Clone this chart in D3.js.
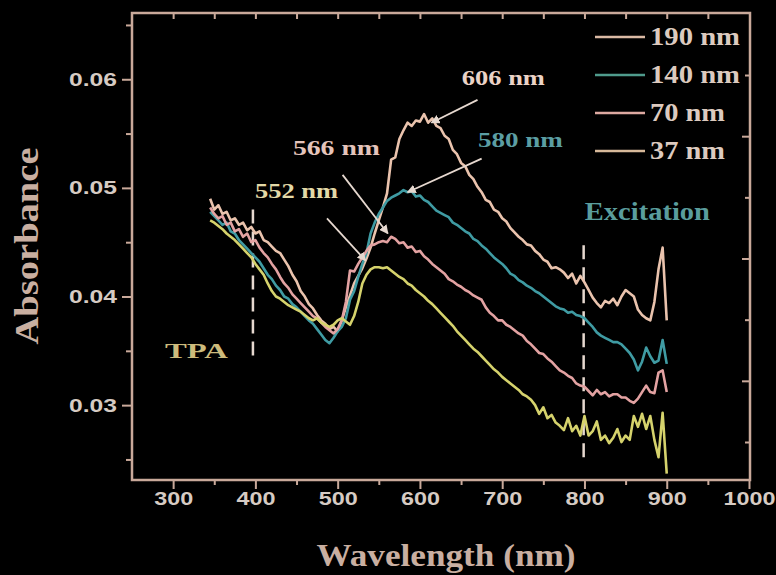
<!DOCTYPE html>
<html><head><meta charset="utf-8">
<script src="https://cdn.jsdelivr.net/npm/d3@7"></script>
<style>body{margin:0;background:#000;}svg{display:block;}</style>
</head><body>
<svg id="chart" width="776" height="575"></svg>
<script>
// ---------------- data ----------------
const wavelengths = [
345,350,355,360,365,370,375,380,385,390,
395,400,405,410,415,420,425,430,435,440,
445,450,455,460,465,470,475,480,485,490,
495,500,505,510,515,520,525,530,535,540,
545,550,555,560,565,570,575,580,585,590,
595,600,605,610,615,620,625,630,635,640,
645,650,655,660,665,670,675,680,685,690,
695,700,705,710,715,720,725,730,735,740,
745,750,755,760,765,770,775,780,785,790,
795,800,805,810,815,820,825,830,835,840,
845,850,855,860,865,870,875,880,885,890,
895,900];

const seriesNames = ["190 nm", "140 nm", "70 nm", "37 nm"];

const abs190 = [
.0490,.0480,.0484,.0476,.0478,.0470,.0472,.0466,.0468,.0461,
.0464,.0458,.0460,.0452,.0450,.0446,.0442,.0440,.0434,.0428,
.0420,.0414,.0405,.0400,.0393,.0389,.0383,.0378,.0375,.0370,
.0372,.0368,.0378,.0390,.0401,.0412,.0419,.0426,.0435,.0445,
.0458,.0470,.0482,.0495,.0526,.0528,.0545,.0553,.0560,.0557,
.0562,.0561,.0568,.0560,.0564,.0557,.0555,.0548,.0545,.0535,
.0531,.0523,.0520,.0512,.0508,.0501,.0496,.0489,.0487,.0480,
.0478,.0472,.0469,.0463,.0459,.0455,.0452,.0448,.0447,.0442,
.0439,.0434,.0432,.0426,.0427,.0425,.0422,.0417,.0421,.0412,
.0419,.0413,.0406,.0399,.0394,.0390,.0396,.0394,.0398,.0392,
.0400,.0406,.0403,.0400,.0388,.0383,.0380,.0378,.0395,.0425,
.0445,.0378];

const abs140 = [
.0478,.0474,.0470,.0466,.0468,.0460,.0458,.0452,.0448,.0444,
.0440,.0436,.0432,.0426,.0420,.0416,.0410,.0406,.0400,.0398,
.0393,.0390,.0386,.0382,.0378,.0375,.0370,.0365,.0360,.0357,
.0362,.0368,.0372,.0380,.0397,.0405,.0418,.0430,.0440,.0458,
.0468,.0476,.0482,.0488,.0491,.0493,.0495,.0498,.0496,.0497,
.0492,.0493,.0489,.0487,.0483,.0479,.0477,.0475,.0473,.0468,
.0466,.0463,.0460,.0458,.0453,.0451,.0447,.0444,.0440,.0436,
.0433,.0430,.0426,.0421,.0419,.0415,.0413,.0410,.0408,.0405,
.0403,.0400,.0397,.0394,.0391,.0389,.0388,.0385,.0386,.0383,
.0382,.0380,.0376,.0372,.0367,.0364,.0362,.0360,.0358,.0358,
.0356,.0352,.0348,.0342,.0332,.0340,.0353,.0345,.0339,.0341,
.0360,.0338];

const abs70 = [
.0482,.0476,.0472,.0474,.0466,.0468,.0460,.0462,.0455,.0458,
.0450,.0452,.0445,.0440,.0436,.0430,.0425,.0418,.0412,.0408,
.0402,.0398,.0394,.0390,.0386,.0382,.0380,.0376,.0372,.0369,
.0366,.0370,.0378,.0395,.0424,.0423,.0430,.0436,.0442,.0447,
.0448,.0450,.0451,.0450,.0455,.0453,.0449,.0450,.0445,.0446,
.0441,.0442,.0437,.0434,.0430,.0427,.0424,.0421,.0416,.0414,
.0411,.0409,.0406,.0404,.0401,.0399,.0397,.0390,.0385,.0382,
.0378,.0378,.0374,.0372,.0369,.0366,.0364,.0359,.0356,.0352,
.0348,.0347,.0343,.0340,.0336,.0332,.0330,.0327,.0325,.0320,
.0318,.0317,.0313,.0309,.0314,.0310,.0312,.0308,.0310,.0310,
.0307,.0307,.0304,.0302,.0306,.0312,.0318,.0312,.0311,.0330,
.0332,.0312];

const abs37 = [
.0470,.0468,.0465,.0462,.0458,.0455,.0452,.0448,.0444,.0440,
.0436,.0430,.0425,.0420,.0412,.0405,.0400,.0398,.0395,.0392,
.0390,.0388,.0386,.0383,.0380,.0378,.0380,.0376,.0374,.0372,
.0374,.0378,.0380,.0377,.0374,.0382,.0395,.0412,.0420,.0425,
.0427,.0427,.0426,.0427,.0424,.0421,.0418,.0416,.0412,.0410,
.0406,.0403,.0400,.0396,.0393,.0389,.0385,.0381,.0377,.0373,
.0368,.0364,.0360,.0356,.0352,.0349,.0345,.0341,.0337,.0333,
.0330,.0326,.0323,.0320,.0317,.0314,.0310,.0308,.0305,.0300,
.0292,.0298,.0288,.0291,.0284,.0281,.0277,.0288,.0276,.0281,
.0272,.0290,.0272,.0276,.0285,.0268,.0272,.0265,.0270,.0278,
.0266,.0272,.0268,.0290,.0280,.0292,.0278,.0290,.0268,.0252,
.0293,.0237];

const xTicks = [300, 400, 500, 600, 700, 800, 900, 1000];
const xMinorTicks = [350, 450, 550, 650, 750, 850, 950];
const yTicks = [0.03, 0.04, 0.05, 0.06];
const yMinorTicks = [0.025, 0.035, 0.045, 0.055, 0.065];

// peak annotations (anchored in data coordinates)
const peakLabels = ["606 nm", "580 nm", "566 nm", "552 nm"];
const peakTextAt = [[651, 0.05945], [670.5, 0.05374], [445.6, 0.05301], [399.5, 0.04905]];
const peakArrowFrom = [[670, 0.0581], [675, 0.0527], [506, 0.0512], [487, 0.0472]];
const peakArrowTo = [[614, 0.0560], [585, 0.0496], [561, 0.0458], [534, 0.0433]];

// region markers
const regionLabels = ["TPA", "Excitation"];
const regionTextAt = [[290, 0.03433], [800.5, 0.04703]];
const regionLineX = [397, 799];
const regionLineY = [[0.0480, 0.0340], [0.04472, 0.02494]];

(function () {
// ---------------- styles ----------------
const seriesValues = [abs190, abs140, abs70, abs37];
const curveColors = ["#eac3ad", "#3f9ba3", "#e3a2a2", "#d5d26c"];
const legendColors = ["#dab9a4", "#4f9b8c", "#dda9a1", "#d7b99a"];
const axisColor = "#c9a99a";
const tickTextColor = "#d6cbc3";
const titleColor = "#c9afa1";
const peakTextColors = ["#ebd3c7", "#5b9ea3", "#e4c4bb", "#e3d9a7"];
const peakTextWidths = [83, 85, 87, 83];
const regionTextColors = ["#cdbb7c", "#5a9d9d"];
const regionTextWidths = [63, 125];
const regionFont = [22, 25];
const guideColor = "#e6d8cf";

const W = 776, H = 575;
const pL = 132, pR = 749, pT = 13, pB = 479;

const svg = d3.select("#chart");
svg.append("rect").attr("width", W).attr("height", H).attr("fill", "#000");

const x = d3.scaleLinear().domain([250, 1000]).range([pL, pR]);
const y = d3.scaleLinear().domain([0.0232, 0.0661]).range([pB, pT]);
const yR = d3.scaleLinear().domain([-1.014, 6.605]).range([pT, pB]);

function stretch(sel, w) {
  sel.attr("textLength", w).attr("lengthAdjust", "spacingAndGlyphs");
}
function styleAxis(g) {
  g.select(".domain").remove();
  g.selectAll(".tick line").attr("stroke", axisColor).attr("stroke-width", 2);
}

// dashed region lines (behind curves)
regionLineX.forEach((xv, i) => {
  svg.append("line")
    .attr("x1", x(xv)).attr("x2", x(xv))
    .attr("y1", y(regionLineY[i][0])).attr("y2", y(regionLineY[i][1]))
    .attr("stroke", guideColor).attr("stroke-width", 2.5)
    .attr("stroke-dasharray", "14,8");
});

// curves
const line = d3.line().x((d, i) => x(wavelengths[i])).y(d => y(d));
seriesValues.forEach((vals, k) => {
  svg.append("path").datum(vals)
    .attr("d", line)
    .attr("fill", "none")
    .attr("stroke", curveColors[k])
    .attr("stroke-width", 2.6)
    .attr("stroke-linejoin", "round");
});

// arrowhead marker
const defs = svg.append("defs");
defs.append("marker").attr("id", "ah")
  .attr("viewBox", "0 0 10 10").attr("refX", 9).attr("refY", 5)
  .attr("markerWidth", 5).attr("markerHeight", 5).attr("orient", "auto")
  .append("path").attr("d", "M0,0L10,5L0,10Z").attr("fill", guideColor);

// peak annotations
peakLabels.forEach((lab, i) => {
  svg.append("line")
    .attr("x1", x(peakArrowFrom[i][0])).attr("y1", y(peakArrowFrom[i][1]))
    .attr("x2", x(peakArrowTo[i][0])).attr("y2", y(peakArrowTo[i][1]))
    .attr("stroke", guideColor).attr("stroke-width", 1.8)
    .attr("marker-end", "url(#ah)");
  svg.append("text")
    .attr("x", x(peakTextAt[i][0])).attr("y", y(peakTextAt[i][1]))
    .attr("font-family", "'Liberation Serif', 'DejaVu Serif', serif")
    .attr("font-weight", "bold").attr("font-size", 21)
    .attr("fill", peakTextColors[i])
    .text(lab)
    .call(stretch, peakTextWidths[i]);
});

// region labels
regionLabels.forEach((lab, i) => {
  svg.append("text")
    .attr("x", x(regionTextAt[i][0])).attr("y", y(regionTextAt[i][1]))
    .attr("font-family", "'Liberation Serif', 'DejaVu Serif', serif")
    .attr("font-weight", "bold").attr("font-size", regionFont[i])
    .attr("fill", regionTextColors[i])
    .text(lab)
    .call(stretch, regionTextWidths[i]);
});

// frame
svg.append("rect")
  .attr("x", x(250)).attr("y", pT)
  .attr("width", x(1000) - x(250) + 1).attr("height", pB - pT + 1)
  .attr("fill", "none").attr("stroke", axisColor).attr("stroke-width", 2.5);

// bottom axis
const gx = svg.append("g").attr("transform", `translate(0,${pB + 1})`)
  .call(d3.axisBottom(x).tickValues(xTicks).tickSize(9).tickPadding(3).tickFormat(d3.format("d")));
styleAxis(gx);
gx.selectAll(".tick text")
  .attr("fill", tickTextColor)
  .attr("font-family", "'Liberation Sans', Arial, sans-serif")
  .attr("font-weight", "bold").attr("font-size", 19)
  .each(function (d) { d3.select(this).call(stretch, String(d).length * 13); });
const gxm = svg.append("g").attr("transform", `translate(0,${pB + 1})`)
  .call(d3.axisBottom(x).tickValues(xMinorTicks).tickSize(5).tickFormat(""));
styleAxis(gxm);

// top axis (inward ticks)
const gt = svg.append("g").attr("transform", `translate(0,${pT})`)
  .call(d3.axisBottom(x).tickValues(xTicks.concat(xMinorTicks).filter(v => v < 1000)).tickSize(6).tickFormat(""));
styleAxis(gt);

// left axis
const gy = svg.append("g").attr("transform", `translate(${pL},0)`)
  .call(d3.axisLeft(y).tickValues(yTicks).tickSize(10).tickPadding(5).tickFormat(d3.format(".2f")));
styleAxis(gy);
gy.selectAll(".tick text")
  .attr("fill", tickTextColor)
  .attr("font-family", "'Liberation Sans', Arial, sans-serif")
  .attr("font-weight", "bold").attr("font-size", 19)
  .call(stretch, 48);
const gym = svg.append("g").attr("transform", `translate(${pL},0)`)
  .call(d3.axisLeft(y).tickValues(yMinorTicks).tickSize(6).tickFormat(""));
styleAxis(gym);

// right axis (inward ticks)
const gr = svg.append("g").attr("transform", `translate(${pR + 1},0)`)
  .call(d3.axisLeft(yR).tickValues([0, 1, 2, 3, 4, 5, 6]).tickSize(5).tickFormat(""));
styleAxis(gr);
gr.selectAll(".tick line").attr("x2", d => (d % 2 === 1 ? -8 : -5));

// axis titles
svg.append("text")
  .attr("x", 446).attr("y", 566)
  .attr("text-anchor", "middle")
  .attr("font-family", "'Liberation Serif', 'DejaVu Serif', serif")
  .attr("font-weight", "bold").attr("font-size", 32)
  .attr("fill", titleColor)
  .text("Wavelength (nm)")
  .call(stretch, 259);

svg.append("text")
  .attr("transform", "translate(38,246) rotate(-90)")
  .attr("text-anchor", "middle")
  .attr("font-family", "'Liberation Serif', 'DejaVu Serif', serif")
  .attr("font-weight", "bold").attr("font-size", 34)
  .attr("fill", titleColor)
  .text("Absorbance")
  .call(stretch, 197);

// legend
const legendW = [90, 90, 75, 75];
seriesNames.forEach((name, i) => {
  const ry = 37 + i * 38;
  svg.append("line")
    .attr("x1", 595).attr("x2", 645).attr("y1", ry).attr("y2", ry)
    .attr("stroke", legendColors[i]).attr("stroke-width", 2.5);
  svg.append("text")
    .attr("x", 650).attr("y", ry + 8)
    .attr("font-family", "'Liberation Serif', 'DejaVu Serif', serif")
    .attr("font-weight", "bold").attr("font-size", 26)
    .attr("fill", "#dccabf")
    .text(name)
    .call(stretch, legendW[i]);
});
})();
</script>
</body></html>
